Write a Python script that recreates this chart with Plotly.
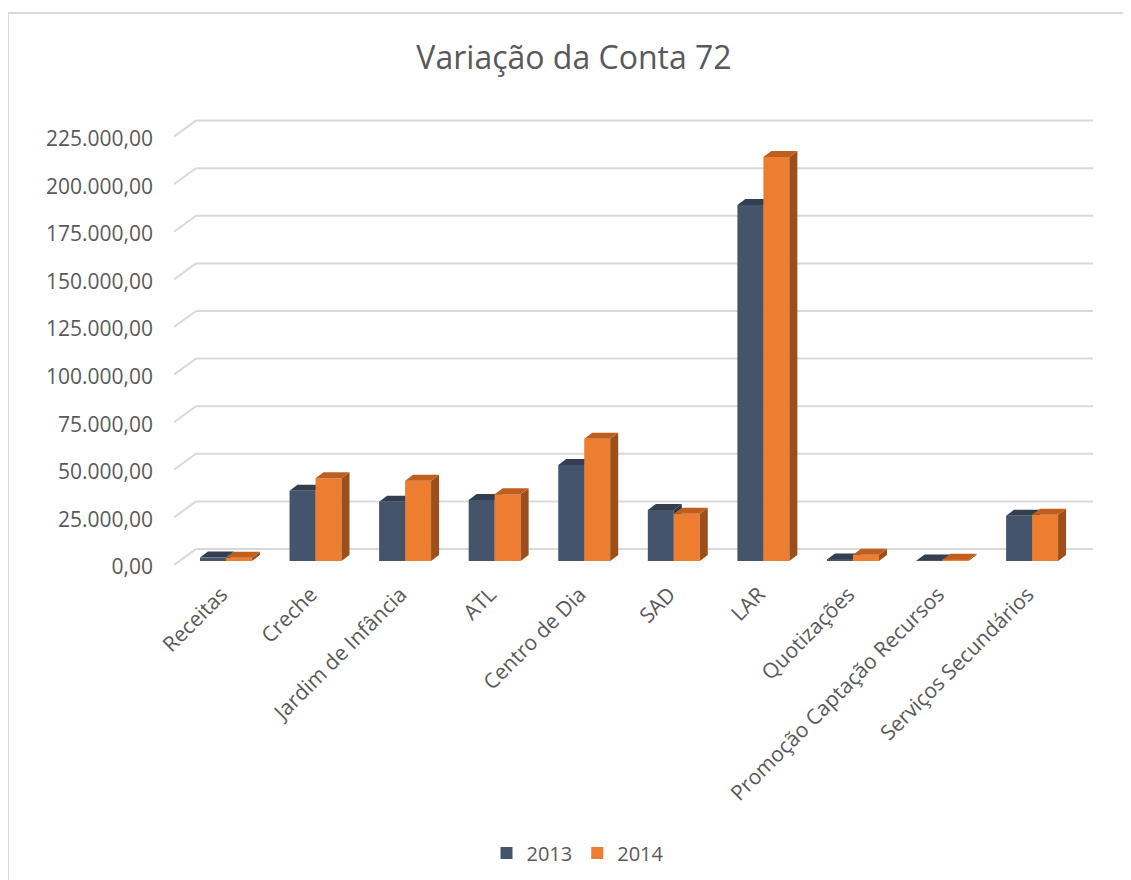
import plotly.graph_objects as go

categories = ["Receitas", "Creche", "Jardim de Infância", "ATL", "Centro de Dia",
              "SAD", "LAR", "Quotizações", "Promoção Captação Recursos",
              "Serviços Secundários"]
values_2013 = [1800, 36900, 31100, 32000, 50400, 26800, 187000, 800, 300, 23800]
values_2014 = [1700, 43400, 42200, 35000, 64200, 24800, 212200, 3300, 700, 24300]
tick_values = [0, 25000, 50000, 75000, 100000, 125000, 150000, 175000, 200000, 225000]
tick_labels = ["0,00", "25.000,00", "50.000,00", "75.000,00", "100.000,00",
               "125.000,00", "150.000,00", "175.000,00", "200.000,00", "225.000,00"]

OFF = 8                      # page body margin
W, H = 1131 - OFF, 880 - OFF
# positions below are in window pixels; converted with OFF
PL, PR, PT, PB = 174, 1093, 110, 570      # plot area edges in window px
ML, MR, MT, MB = PL - OFF, W - (PR - OFF), PT - OFF, H - (PB - OFF)
X_RANGE = [-0.58, 9.68]
PX_X = (PR - PL) / (X_RANGE[1] - X_RANGE[0])   # px per x unit
K = 25000 / 47.6                                # value units per px
Y_RANGE = [-(PB - 561) * K, (561 - PT) * K]
LABEL_SHIFT = 6 * K
BACK_SHIFT = 12 * K

BAR_W = 0.29
DX = 8 / PX_X
DY = 6 * K

C13, C14 = "#44546A", "#ED7D31"
C13_TOP, C13_SIDE = "#333F50", "#2C3745"
C14_TOP, C14_SIDE = "#BF5F1F", "#9C4F1B"
TXT = "#595959"
GRID = "#D9D9D9"
FONT = "Open Sans"

xs = list(range(len(categories)))
label_pos = [i - 0.05 for i in xs]

fig = go.Figure()
fig.add_trace(go.Bar(x=xs, y=values_2013, name="2013", width=BAR_W, offset=-BAR_W,
                     marker=dict(color=C13, line=dict(width=0)), hoverinfo="y"))
fig.add_trace(go.Bar(x=xs, y=values_2014, name="2014", width=BAR_W, offset=0,
                     marker=dict(color=C14, line=dict(width=0)), hoverinfo="y"))
# invisible trace carrying the y tick labels (front edge)
fig.add_trace(go.Scatter(x=[None], y=[None], yaxis="y2", showlegend=False, hoverinfo="skip"))

shapes = []
# back-wall gridlines with their floor diagonals
x_back = X_RANGE[0] + 22 / PX_X
for v in tick_values:
    shapes.append(dict(type="line", xref="x", yref="y", layer="below",
                       x0=x_back, x1=X_RANGE[1], y0=v + BACK_SHIFT, y1=v + BACK_SHIFT,
                       line=dict(color=GRID, width=2)))
    shapes.append(dict(type="line", xref="x", yref="y", layer="below",
                       x0=X_RANGE[0], x1=x_back, y0=v - 2100, y1=v + BACK_SHIFT,
                       line=dict(color=GRID, width=2)))


def box_faces(x0, x1, val, top_col, side_col, layer):
    top = (f"M {x0},{val} L {x1},{val} L {x1 + DX},{val + DY} "
           f"L {x0 + DX},{val + DY} Z")
    side = (f"M {x1},0 L {x1},{val} L {x1 + DX},{val + DY} "
            f"L {x1 + DX},{DY} Z")
    return [dict(type="path", path=side, xref="x", yref="y", layer=layer,
                 fillcolor=side_col, line=dict(width=0)),
            dict(type="path", path=top, xref="x", yref="y", layer=layer,
                 fillcolor=top_col, line=dict(width=0))]


for i, v in zip(xs, values_2013):
    shapes += box_faces(i - BAR_W, i, v, C13_TOP, C13_SIDE, "below")
for i, v in zip(xs, values_2014):
    shapes += box_faces(i, i + BAR_W, v, C14_TOP, C14_SIDE, "above")

# outer chart border (left and top edges)
plot_w = PR - PL
plot_h = PB - PT
px = lambda p: (p - PL) / plot_w
py = lambda p: (PB - p) / plot_h
shapes.append(dict(type="line", xref="paper", yref="paper", x0=px(8), x1=px(8),
                   y0=py(13), y1=py(900), line=dict(color=GRID, width=2)))
shapes.append(dict(type="line", xref="paper", yref="paper", x0=px(8), x1=px(1140),
                   y0=py(13), y1=py(13), line=dict(color=GRID, width=2)))

fig.update_layout(
    width=W, height=H,
    margin=dict(l=ML, r=MR, t=MT, b=MB, autoexpand=False),
    paper_bgcolor="white", plot_bgcolor="white",
    font=dict(family=FONT, color=TXT, size=21),
    title=dict(text="Variação da Conta 72", x=(574 - OFF) / W, xanchor="center",
               y=1 - (58 - OFF) / H, yanchor="middle",
               font=dict(family=FONT, size=32, color=TXT)),
    barmode="overlay",
    xaxis=dict(range=X_RANGE, tickmode="array", tickvals=label_pos, ticktext=categories,
               tickangle=-45, showgrid=False, zeroline=False, showline=False,
               ticks="", ticklabelstandoff=7, automargin=False,
               tickfont=dict(size=21, color=TXT)),
    yaxis=dict(range=Y_RANGE, showgrid=False, zeroline=False, showline=False,
               showticklabels=False, ticks="", automargin=False),
    yaxis2=dict(range=[Y_RANGE[0] + LABEL_SHIFT, Y_RANGE[1] + LABEL_SHIFT],
                overlaying="y", side="left", tickmode="array",
                tickvals=tick_values, ticktext=tick_labels,
                showgrid=False, zeroline=False, showline=False, ticks="",
                ticklabelstandoff=20, automargin=False,
                tickfont=dict(size=21, color=TXT)),
    legend=dict(orientation="h", x=px(578), xanchor="center", y=py(853),
                yanchor="middle", font=dict(size=20, color=TXT),
                itemwidth=30, traceorder="normal"),
    shapes=shapes,
    showlegend=True,
)

fig.write_html("out.html")
